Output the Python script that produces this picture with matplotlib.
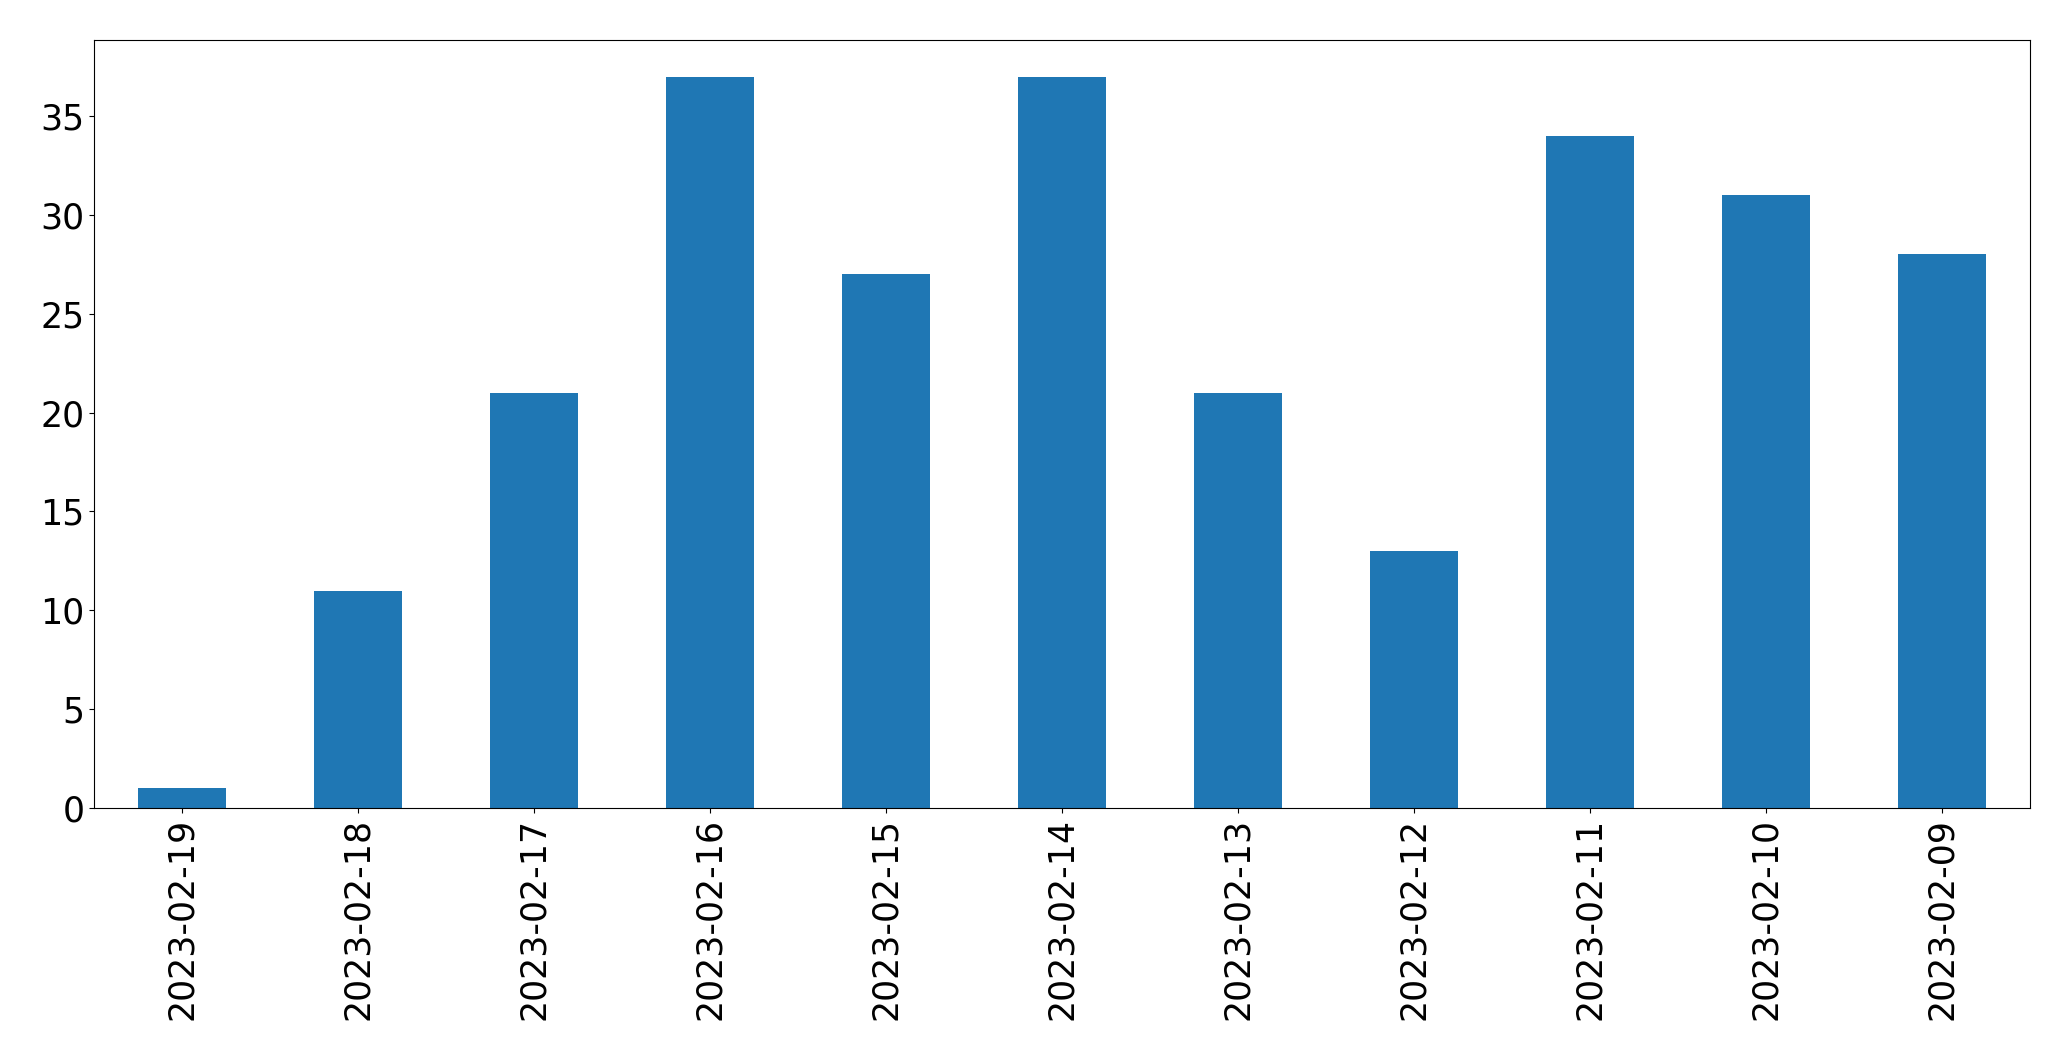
import matplotlib.pyplot as plt
import numpy as np

dates = ["2023-02-19", "2023-02-18", "2023-02-17", "2023-02-16", "2023-02-15",
         "2023-02-14", "2023-02-13", "2023-02-12", "2023-02-11", "2023-02-10",
         "2023-02-09"]
counts = [1, 11, 21, 37, 27, 37, 21, 13, 34, 31, 28]

fig = plt.figure(figsize=(20.71, 10.61), dpi=100)
ax = fig.add_axes([94 / 2071, 1 - 808 / 1061, (2030 - 94) / 2071, (808 - 40) / 1061])

x = np.arange(len(dates))
ax.bar(x, counts, width=0.5, color="#1f77b4")
ax.set_xlim(-0.5, len(dates) - 0.5)
ax.set_xticks(x)
ax.set_xticklabels(dates, rotation=90)
ax.tick_params(labelsize=25)

fig.savefig("out.png", dpi=100)
